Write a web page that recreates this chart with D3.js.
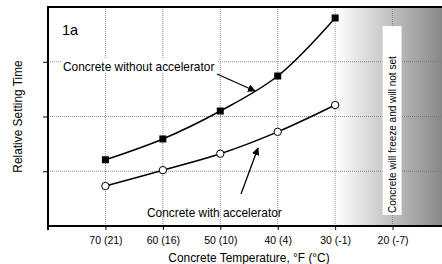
<!DOCTYPE html>
<html>
<head>
<meta charset="utf-8">
<script src="https://cdn.jsdelivr.net/npm/d3@7"></script>
<style>
  body { margin: 0; background: #fff; }
  text { font-family: "Liberation Sans", Arial, sans-serif; fill: #000; }
</style>
</head>
<body>
<div id="chart"></div>
<script>
// temperatures in F, with the C value shown in brackets
var temps = [70, 60, 50, 40, 30, 20];
var tickLabels = ["70 (21)", "60 (16)", "50 (10)", "40 (4)", "30 (-1)", "20 (-7)"];
// relative setting time
var withoutAcc = [1.21, 1.59, 2.10, 2.74, 3.80];
var withAcc = [0.73, 1.02, 1.32, 1.72, 2.21];
var gridY = [1, 2, 3];

/** draws the whole figure into #chart */
function draw_chart() {

   var width = 442, height = 264;
   var svg = d3.select("#chart")
               .append("svg")
               .attr("width", width)
               .attr("height", height);

   var x = d3.scaleLinear().domain([80, 10]).range([48, 450]);
   var y = d3.scaleLinear().domain([0, 4]).range([226, 7]);

   // freeze zone shading, white to gray
   var grad = svg.append("defs").append("linearGradient")
                 .attr("id", "freeze")
                 .attr("x1", "0%").attr("x2", "100%");
   grad.append("stop").attr("offset", "0%").attr("stop-color", "#ffffff");
   grad.append("stop").attr("offset", "100%").attr("stop-color", "#888888");
   svg.append("rect")
      .attr("x", x(30))
      .attr("y", y(4))
      .attr("width", width - x(30))
      .attr("height", y(0) - y(4))
      .attr("fill", "url(#freeze)");

   // grid lines
   svg.append("g").selectAll("line")
      .data(temps)
      .join("line")
      .attr("x1", function(d) { return x(d); })
      .attr("x2", function(d) { return x(d); })
      .attr("y1", y(4))
      .attr("y2", y(0))
      .attr("stroke", "#6e6e6e")
      .attr("stroke-width", 0.8)
      .attr("stroke-dasharray", "1,1");
   svg.append("g").selectAll("line")
      .data(gridY)
      .join("line")
      .attr("x1", x(80))
      .attr("x2", width)
      .attr("y1", function(d) { return y(d); })
      .attr("y2", function(d) { return y(d); })
      .attr("stroke", "#6e6e6e")
      .attr("stroke-width", 0.8)
      .attr("stroke-dasharray", "1,1");

   // label box in the freeze zone
   svg.append("rect")
      .attr("x", x(20) - 10)
      .attr("y", 26)
      .attr("width", 19)
      .attr("height", 189)
      .attr("fill", "#fff");
   svg.append("text")
      .attr("transform", "translate(" + (x(20) + 3.5) + ",213) rotate(-90)")
      .attr("font-size", 10)
      .text("Concrete will freeze and will not set");

   // axes
   var xAxis = svg.append("g")
      .attr("transform", "translate(0," + y(0) + ")")
      .call(d3.axisBottom(x).tickValues(temps).tickSize(4).tickFormat(function(d, i) { return tickLabels[i]; }));
   xAxis.select(".domain").remove();
   xAxis.selectAll("text").attr("font-size", 10.5).attr("font-family", "Liberation Sans, Arial, sans-serif").attr("dy", "1.05em");
   var yAxis = svg.append("g")
      .attr("transform", "translate(" + x(80) + ",0)")
      .call(d3.axisLeft(y).tickValues(gridY).tickSize(5).tickFormat(""));
   yAxis.select(".domain").remove();

   svg.append("line")
      .attr("x1", x(80)).attr("x2", width)
      .attr("y1", y(0)).attr("y2", y(0))
      .attr("stroke", "#000").attr("stroke-width", 2);
   svg.append("line")
      .attr("x1", x(80)).attr("x2", width)
      .attr("y1", y(4)).attr("y2", y(4))
      .attr("stroke", "#000").attr("stroke-width", 2);
   svg.append("line")
      .attr("x1", x(80)).attr("x2", x(80))
      .attr("y1", y(4) - 1).attr("y2", y(0) + 4)
      .attr("stroke", "#000").attr("stroke-width", 2);

   // series lines
   var line = d3.line()
                .x(function(d, i) { return x(temps[i]); })
                .y(function(d) { return y(d); })
                .curve(d3.curveCatmullRom.alpha(0.5));
   svg.append("path").datum(withoutAcc)
      .attr("fill", "none").attr("stroke", "#000").attr("stroke-width", 1.5)
      .attr("d", line);
   svg.append("path").datum(withAcc)
      .attr("fill", "none").attr("stroke", "#000").attr("stroke-width", 1.5)
      .attr("d", line);

   svg.append("g").selectAll("rect")
      .data(withoutAcc)
      .join("rect")
      .attr("x", function(d, i) { return x(temps[i]) - 3.5; })
      .attr("y", function(d) { return y(d) - 3.5; })
      .attr("width", 7).attr("height", 7)
      .attr("fill", "#000");
   svg.append("g").selectAll("circle")
      .data(withAcc)
      .join("circle")
      .attr("cx", function(d, i) { return x(temps[i]); })
      .attr("cy", function(d) { return y(d); })
      .attr("r", 3.7)
      .attr("fill", "#fff").attr("stroke", "#000").attr("stroke-width", 1);

   // annotations
   svg.append("text").attr("x", 62).attr("y", 35).attr("font-size", 14.5).text("1a");
   svg.append("rect").attr("x", 61).attr("y", 58).attr("width", 156).attr("height", 15).attr("fill", "#fff");
   svg.append("text").attr("x", 63).attr("y", 71).attr("font-size", 11.9).text("Concrete without accelerator");
   svg.append("text").attr("x", 147).attr("y", 217).attr("font-size", 11.9).text("Concrete with accelerator");

   svg.append("defs").append("marker")
      .attr("id", "arrow")
      .attr("viewBox", "0 0 10 10")
      .attr("refX", 9).attr("refY", 5)
      .attr("markerWidth", 6).attr("markerHeight", 6)
      .attr("orient", "auto")
      .append("path").attr("d", "M0,0 L10,5 L0,10 Z").attr("fill", "#000");
   svg.append("line")
      .attr("x1", 217).attr("y1", 74).attr("x2", 255).attr("y2", 91)
      .attr("stroke", "#000").attr("stroke-width", 1.3)
      .attr("marker-end", "url(#arrow)");
   svg.append("line")
      .attr("x1", 241).attr("y1", 194).attr("x2", 258).attr("y2", 148)
      .attr("stroke", "#000").attr("stroke-width", 1.3)
      .attr("marker-end", "url(#arrow)");

   // axis titles
   svg.append("text")
      .attr("transform", "translate(22," + y(2) + ") rotate(-90)")
      .attr("text-anchor", "middle")
      .attr("font-size", 11.9)
      .text("Relative Setting Time");
   svg.append("text")
      .attr("x", 249).attr("y", 262)
      .attr("text-anchor", "middle")
      .attr("font-size", 11.9)
      .text("Concrete Temperature, \u00b0F (\u00b0C)");
}

draw_chart();
</script>
</body>
</html>
